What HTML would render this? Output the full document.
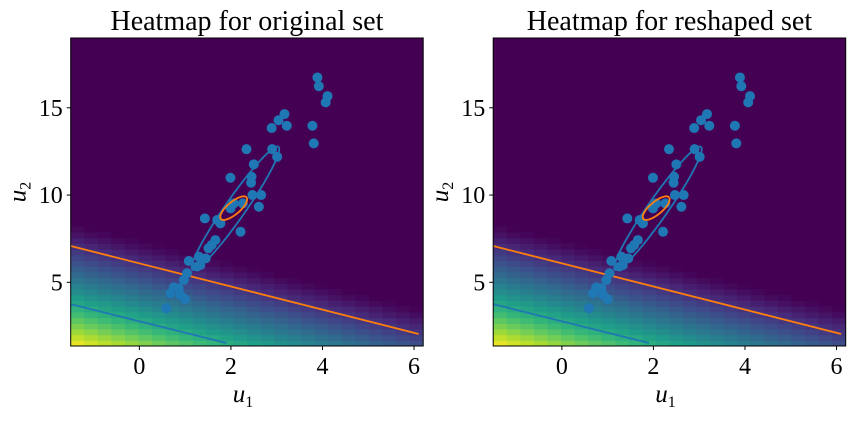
<!DOCTYPE html>
<html><head><meta charset="utf-8"><style>
html,body{margin:0;padding:0;background:#fff;}
svg text{font-family:"Liberation Serif",serif;fill:#000;}
</style></head><body>
<svg id="fig" width="855" height="416" xmlns="http://www.w3.org/2000/svg"></svg>
<script>
const ptsU1=[3.89,3.92,4.11,4.07,3.17,3.04,3.22,2.89,3.78,3.81,2.34,2.90,3.01,2.50,1.99,2.45,2.44,2.47,2.66,2.61,2.26,2.06,1.99,1.43,1.70,1.77,2.21,1.66,1.58,1.51,1.08,1.30,1.45,1.33,1.26,1.04,0.97,0.75,0.86,0.68,0.90,1.00,0.59];
const ptsU2=[16.74,16.24,15.67,15.31,14.64,14.29,13.97,13.84,13.97,12.96,12.63,12.63,12.19,11.76,10.99,11.05,10.71,10.00,10.00,9.33,9.52,9.52,9.24,8.66,8.57,8.38,7.90,7.42,7.14,6.95,6.22,6.47,6.37,5.99,5.90,5.52,5.13,4.71,4.66,4.37,4.27,4.03,3.51];
const xTicks=[0,2,4,6];
const yTicks=[5,10,15];
const orangeLine=[[-1.5,7.08],[6.1,2.04]];
const blueLine=[[-1.5,3.75],[1.9,1.52]];
const blueEllipse=[2.1,9.24,0.94,3.53,0.18,-0.33];
const orangeEllipse=[2.06,9.25,0.28,0.62,0.09,-0.27];
const titles=["Heatmap for original set","Heatmap for reshaped set"];
const X0=-1.5,X1=6.2,Y0=1.35,Y1=19.0;
const NS="http://www.w3.org/2000/svg";
const svg=document.getElementById('fig');
function mk(t,a,p){const e=document.createElementNS(NS,t);for(const k in a)e.setAttribute(k,a[k]);(p||svg).appendChild(e);return e;}
const vir=[[68,1,84],[72,40,120],[62,74,137],[49,104,142],[38,130,142],[31,158,137],[53,183,121],[109,205,89],[180,222,44],[253,231,37]];
function viridis(v){v=Math.max(0,Math.min(1,v))*9;const i=Math.min(8,Math.floor(v)),f=v-i;const c=vir[i].map((a,k)=>Math.round(a+(vir[i+1][k]-a)*f));return `rgb(${c})`;}
function panel(idx,L){
  const R=L+352.5,T=38,B=346;
  const sx=x=>L+(x-X0)/(X1-X0)*(R-L);
  const sy=y=>B-(y-Y0)/(Y1-Y0)*(B-T);
  const g=mk('g',{});
  
  
  const cid='clip'+idx;
  const cp=mk('clipPath',{id:cid},g);mk('rect',{x:L,y:T,width:R-L,height:B-T},cp);
  const hm=mk('g',{'clip-path':`url(#${cid})`},g);
  
  
  mk('rect',{x:L,y:T,width:R-L,height:B-T,fill:'#440154'},hm);
  const nc=26,nr=54,cw=(R-L)/nc,ch=(B-T)/nr;
  for(let i=0;i<nc;i++)for(let j=0;j<nr;j++){
    const x=X0+(i+0.5)/nc*(X1-X0),y=Y0+(j+0.5)/nr*(Y1-Y0);
    const s=(8.4-0.64*(x+1.5)-y)/7;
    if(s<=0)continue;
    const v=Math.pow(s,1.2);
    mk('rect',{x:L+i*cw,y:B-(j+1)*ch,width:cw+0.6,height:ch+0.6,fill:viridis(v)},hm);
  }
  function line(d,c,name){const l=mk('line',{x1:sx(d[0][0]),y1:sy(d[0][1]),x2:sx(d[1][0]),y2:sy(d[1][1]),stroke:c,'stroke-width':1.8},hm);
    }
  line(orangeLine,'#ff7f0e','orange-boundary-line');
  line(blueLine,'#1f77b4','blue-boundary-line');
  for(let k=0;k<ptsU1.length;k++){
    const c=mk('circle',{cx:sx(ptsU1[k]),cy:sy(ptsU2[k]),r:5,fill:'#1f77b4'},hm);
    
    
  }
  function ell(e,c,name){let d='';for(let t=0;t<=64;t++){const a=t/64*2*Math.PI;const x=e[0]+Math.cos(a)*e[2]+Math.sin(a)*e[4],y=e[1]+Math.cos(a)*e[3]+Math.sin(a)*e[5];d+=(t?'L':'M')+sx(x).toFixed(1)+','+sy(y).toFixed(1);}
    const p=mk('path',{d:d,fill:'none',stroke:c,'stroke-width':1.8},hm);
    }
  ell(blueEllipse,'#1f77b4','blue-ellipse');
  ell(orangeEllipse,'#ff7f0e','orange-ellipse');
  const fr=mk('rect',{x:L,y:T,width:R-L,height:B-T,fill:'none',stroke:'#000','stroke-width':1},g);
  
  xTicks.forEach(v=>{const x=sx(v);mk('line',{x1:x,y1:B,x2:x,y2:B+4,stroke:'#000'},g);
    const t=mk('text',{x:x,y:B+28,'text-anchor':'middle','font-size':24},g);t.textContent=v;
    });
  yTicks.forEach(v=>{const y=sy(v);mk('line',{x1:L-4,y1:y,x2:L,y2:y,stroke:'#000'},g);
    const t=mk('text',{x:L-8,y:y+8,'text-anchor':'end','font-size':24},g);t.textContent=v;
    });
  const tt=mk('text',{x:(L+R)/2,y:30,'text-anchor':'middle','font-size':28},g);tt.textContent=titles[idx];
  
  const xl=mk('text',{x:(L+R)/2-4,y:402,'text-anchor':'middle','font-size':25,'font-style':'italic'},g);
  xl.innerHTML='u<tspan font-size="16" font-style="normal" dy="5">1</tspan>';
  
  const yl=mk('text',{x:0,y:0,'text-anchor':'middle','font-size':25,'font-style':'italic',transform:`translate(${L-45},${(T+B)/2}) rotate(-90)`},g);
  yl.innerHTML='u<tspan font-size="16" font-style="normal" dy="5">2</tspan>';
  
}
panel(0,70.7);
panel(1,493.2);
</script>
</body></html>
